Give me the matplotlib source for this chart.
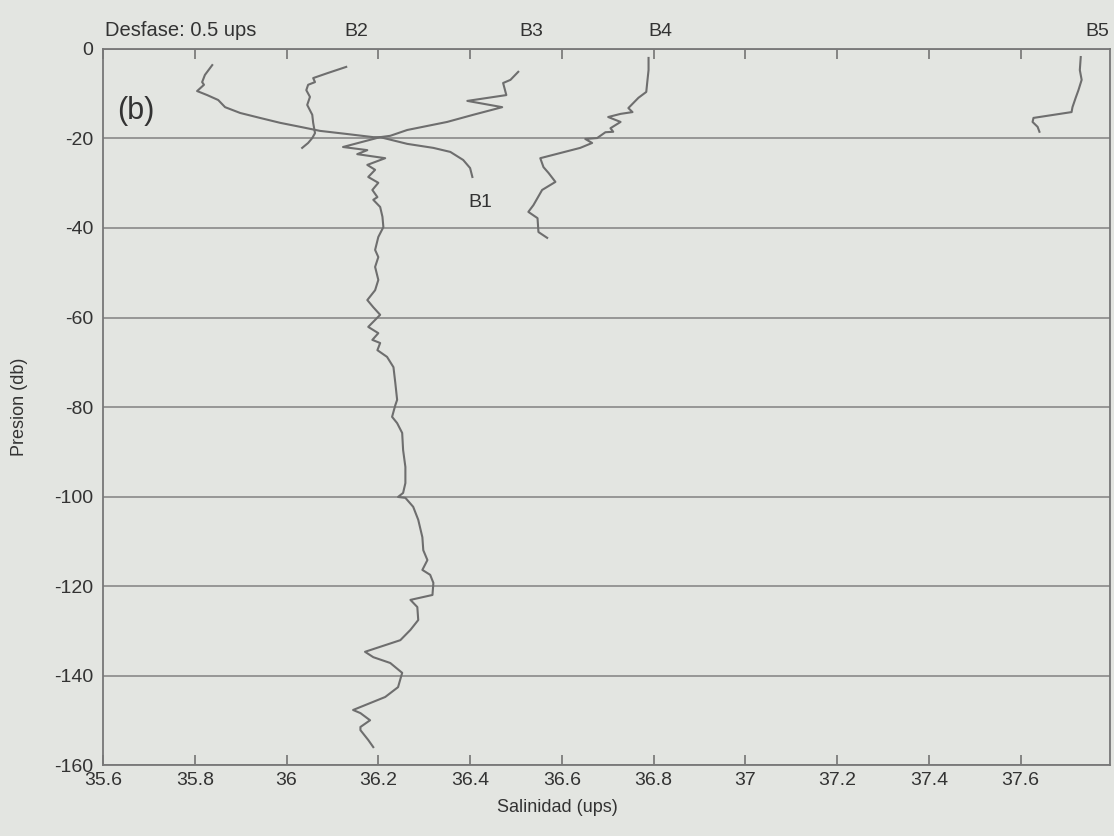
import matplotlib
matplotlib.use("Agg")
import matplotlib.pyplot as plt
from matplotlib.transforms import blended_transform_factory

plt.rcParams["font.family"] = ["Liberation Sans", "DejaVu Sans"]
plt.rcParams["axes.unicode_minus"] = False

# Salinity profiles (salinity in ups, pressure in db, negative downward)
b1_sal = [35.838, 35.822, 35.816, 35.820, 35.805, 35.827, 35.851, 35.866, 35.899,
          35.942, 35.986, 36.030, 36.073, 36.132, 36.189, 36.204, 36.263, 36.320,
          36.357, 36.385, 36.400, 36.405]
b1_pres = [-3.6, -5.8, -7.4, -8.0, -9.4, -10.3, -11.4, -13.0, -14.3,
           -15.4, -16.5, -17.4, -18.3, -19.0, -19.7, -19.7, -21.2, -22.1,
           -23.0, -24.8, -26.6, -28.6]

b2_sal = [36.130, 36.089, 36.058, 36.062, 36.047, 36.043, 36.051, 36.045, 36.056,
          36.058, 36.062, 36.056, 36.047, 36.034]
b2_pres = [-4.0, -5.4, -6.5, -7.4, -8.0, -9.2, -10.7, -12.5, -14.7,
           -16.5, -18.8, -19.9, -21.0, -22.1]

b3_sal = [36.505, 36.488, 36.472, 36.479, 36.394, 36.470, 36.407, 36.350, 36.263,
          36.226, 36.204, 36.123, 36.176, 36.154, 36.215, 36.176, 36.193, 36.178,
          36.200, 36.187, 36.198, 36.189, 36.204, 36.209, 36.211, 36.200, 36.193,
          36.200, 36.193, 36.200, 36.193, 36.176, 36.189, 36.204, 36.178, 36.200,
          36.187, 36.204, 36.198, 36.219, 36.233, 36.237, 36.241, 36.237, 36.230,
          36.241, 36.252, 36.254, 36.259, 36.259, 36.254, 36.243, 36.259, 36.276,
          36.287, 36.296, 36.298, 36.307, 36.296, 36.313, 36.320, 36.318, 36.270,
          36.285, 36.287, 36.270, 36.248, 36.171, 36.189, 36.226, 36.252, 36.243,
          36.215, 36.145, 36.161, 36.182, 36.161, 36.161, 36.178, 36.189]
b3_pres = [-5.1, -6.9, -7.6, -10.3, -11.6, -13.0, -14.7, -16.3, -18.1,
           -19.4, -19.7, -21.9, -22.6, -23.5, -24.4, -25.9, -27.0, -28.6,
           -29.9, -31.5, -33.1, -33.7, -35.3, -37.5, -39.8, -42.0, -44.9,
           -46.5, -48.7, -51.6, -53.9, -56.1, -57.7, -59.4, -62.1, -63.5,
           -65.0, -65.7, -67.3, -68.8, -71.1, -74.6, -78.4, -79.6, -82.2,
           -83.6, -85.8, -89.6, -93.4, -97.0, -99.2, -100.1, -100.3, -102.3,
           -105.2, -109.1, -112.0, -114.2, -116.4, -117.5, -119.3, -122.0, -123.1,
           -124.7, -127.6, -129.8, -132.1, -134.7, -135.9, -137.2, -139.4, -142.6,
           -144.8, -147.7, -148.4, -150.0, -151.5, -152.2, -154.4, -156.0]

b4_sal = [36.789, 36.789, 36.786, 36.784, 36.767, 36.745, 36.754, 36.728, 36.701,
          36.728, 36.706, 36.712, 36.695, 36.677, 36.651, 36.666, 36.640, 36.553,
          36.560, 36.571, 36.586, 36.557, 36.538, 36.527, 36.547, 36.549, 36.568]
b4_pres = [-2.0, -4.7, -7.6, -9.6, -10.9, -13.2, -14.1, -14.5, -15.2,
           -16.3, -17.7, -18.5, -18.6, -19.9, -20.1, -21.0, -22.1, -24.4,
           -26.4, -27.7, -29.7, -31.5, -34.9, -36.4, -37.8, -40.9, -42.2]

b5_sal = [37.731, 37.729, 37.733, 37.726, 37.720, 37.713, 37.711, 37.628, 37.626,
          37.637, 37.641]
b5_pres = [-1.8, -4.7, -6.9, -9.2, -10.9, -13.0, -14.1, -15.4, -16.3, -17.4, -18.5]

x_ticks = [35.6, 35.8, 36.0, 36.2, 36.4, 36.6, 36.8, 37.0, 37.2, 37.4, 37.6]
x_tick_labels = ["35.6", "35.8", "36", "36.2", "36.4", "36.6", "36.8", "37",
                 "37.2", "37.4", "37.6"]
y_ticks = [0, -20, -40, -60, -80, -100, -120, -140, -160]

station_names = ["B2", "B3", "B4", "B5"]
station_label_x = [36.152, 36.533, 36.815, 37.768]

bg = "#e3e5e1"
line_col = "#6e6e6e"
text_col = "#333333"

fig = plt.figure(figsize=(11.14, 8.36), dpi=100, facecolor=bg)
ax = fig.add_axes([0.0925, 0.0849, 0.904, 0.8565], facecolor=bg)

for s, p in [(b1_sal, b1_pres), (b2_sal, b2_pres), (b3_sal, b3_pres),
             (b4_sal, b4_pres), (b5_sal, b5_pres)]:
    ax.plot(s, p, color=line_col, lw=1.5, zorder=3)

ax.set_xlim(35.6, 37.795)
ax.set_ylim(-160, 0)
ax.set_xticks(x_ticks)
ax.set_xticklabels(x_tick_labels)
ax.set_yticks(y_ticks)
ax.set_yticklabels([str(v) for v in y_ticks])

ax.grid(axis="y", color="#909090", lw=1.3)
ax.set_axisbelow(True)
ax.tick_params(axis="x", direction="in", length=7, width=1.1, color="#6a6a6a",
               top=True, labelsize=14, labelcolor=text_col, pad=5)
ax.tick_params(axis="y", direction="in", length=0, labelsize=14,
               labelcolor=text_col, pad=7)
for sp in ax.spines.values():
    sp.set_color("#777777")
    sp.set_linewidth(1.3)

ax.set_xlabel("Salinidad (ups)", fontsize=13, color=text_col)
ax.xaxis.set_label_coords(0.451, -0.048)
ax.set_ylabel("Presion (db)", fontsize=13, color=text_col)
ax.yaxis.set_label_coords(-0.075, 0.5)

top = blended_transform_factory(ax.transData, ax.transAxes)
for name, xs in zip(station_names, station_label_x):
    ax.text(xs, 1.012, name, transform=top, ha="center", va="bottom",
            fontsize=14, color=text_col)
ax.text(0.002, 1.012, "Desfase: 0.5 ups", transform=ax.transAxes, ha="left",
        va="bottom", fontsize=14.5, color=text_col)
ax.text(36.422, -34.2, "B1", ha="center", va="center", fontsize=14, color=text_col)
ax.text(35.672, -13.9, "(b)", ha="center", va="center", fontsize=22, color=text_col)

fig.savefig("out.png", dpi=100, facecolor=bg)
